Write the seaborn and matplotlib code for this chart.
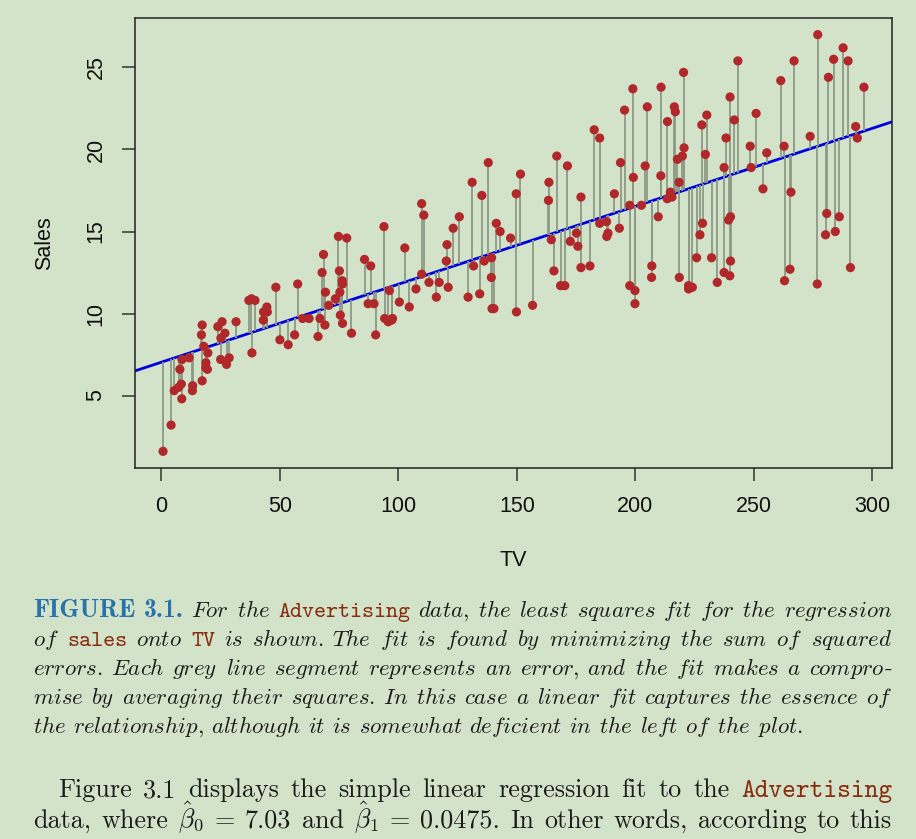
import numpy as np
import pandas as pd
import matplotlib
matplotlib.use("Agg")
import matplotlib.pyplot as plt
import seaborn as sns

# Advertising data: TV budget and Sales (200 markets)
tv = [230.1, 44.5, 17.2, 151.5, 180.8, 8.7, 57.5, 120.2, 8.6, 199.8,
      66.1, 214.7, 23.8, 97.5, 204.1, 195.4, 67.8, 281.4, 69.2, 147.3,
      218.4, 237.4, 13.2, 228.3, 62.3, 262.9, 142.9, 240.1, 248.8, 70.6,
      292.9, 112.9, 97.2, 265.6, 95.7, 290.7, 266.9, 74.7, 43.1, 228.0,
      202.5, 177.0, 293.6, 206.9, 25.1, 175.1, 89.7, 239.9, 227.2, 66.9,
      199.8, 100.4, 216.4, 182.6, 262.7, 198.9, 7.3, 136.2, 210.8, 210.7,
      53.5, 261.3, 239.3, 102.7, 131.1, 69.0, 31.5, 139.3, 237.4, 216.8,
      199.1, 109.8, 26.8, 129.4, 213.4, 16.9, 27.5, 120.5, 5.4, 116.0,
      76.4, 239.8, 75.3, 68.4, 213.5, 193.2, 76.3, 110.7, 88.3, 109.8,
      134.3, 28.6, 217.7, 250.9, 107.4, 163.3, 197.6, 184.9, 289.7, 135.2,
      222.4, 296.4, 280.2, 187.9, 238.2, 137.9, 25.0, 90.4, 13.1, 255.4,
      225.8, 241.7, 175.7, 209.6, 78.2, 75.1, 139.2, 76.4, 125.7, 19.4,
      141.3, 18.8, 224.0, 123.1, 229.5, 87.2, 7.8, 80.2, 220.3, 59.6,
      0.7, 265.2, 8.4, 219.8, 36.9, 48.3, 25.6, 273.7, 43.0, 184.9,
      73.4, 193.7, 220.5, 104.6, 96.2, 140.3, 240.1, 243.2, 38.0, 44.7,
      280.7, 121.0, 197.6, 171.3, 187.8, 4.1, 93.9, 149.8, 11.7, 131.7,
      172.5, 85.7, 188.4, 163.5, 117.2, 234.5, 17.9, 206.8, 215.4, 284.3,
      50.0, 164.5, 19.6, 168.4, 222.4, 276.9, 248.4, 170.2, 276.7, 165.6,
      156.6, 218.5, 56.2, 287.6, 253.8, 205.0, 139.5, 191.1, 286.0, 18.7,
      39.5, 75.5, 17.2, 166.8, 149.7, 38.2, 94.2, 177.0, 283.6, 232.1]
sales = [22.1, 10.4, 9.3, 18.5, 12.9, 7.2, 11.8, 13.2, 4.8, 10.6,
         8.6, 17.4, 9.2, 9.7, 19.0, 22.4, 12.5, 24.4, 11.3, 14.6,
         18.0, 12.5, 5.6, 15.5, 9.7, 12.0, 15.0, 15.9, 18.9, 10.5,
         21.4, 11.9, 9.6, 17.4, 9.5, 12.8, 25.4, 14.7, 10.1, 21.5,
         16.6, 17.1, 20.7, 12.9, 8.5, 14.9, 10.6, 23.2, 14.8, 9.7,
         11.4, 10.7, 22.6, 21.2, 20.2, 23.7, 5.5, 13.2, 23.8, 18.4,
         8.1, 24.2, 15.7, 14.0, 18.0, 9.3, 9.5, 13.4, 18.9, 22.3,
         18.3, 12.4, 8.8, 11.0, 17.0, 8.7, 6.9, 14.2, 5.3, 11.0,
         11.8, 12.3, 11.3, 13.6, 21.7, 15.2, 12.0, 16.0, 12.9, 16.7,
         11.2, 7.3, 19.4, 22.2, 11.5, 16.9, 11.7, 15.5, 25.4, 17.2,
         11.7, 23.8, 14.8, 14.7, 20.7, 19.2, 7.2, 8.7, 5.3, 19.8,
         13.4, 21.8, 14.1, 15.9, 14.6, 12.6, 12.2, 9.4, 15.9, 6.6,
         15.5, 7.0, 11.6, 15.2, 19.7, 10.6, 6.6, 8.8, 24.7, 9.7,
         1.6, 12.7, 5.7, 19.6, 10.8, 11.6, 9.5, 20.8, 9.6, 20.7,
         10.9, 19.2, 20.1, 10.4, 11.4, 10.3, 13.2, 25.4, 10.9, 10.1,
         16.1, 11.6, 16.6, 19.0, 15.6, 3.2, 15.3, 10.1, 7.3, 12.9,
         14.4, 13.3, 14.9, 18.0, 11.9, 11.9, 8.0, 12.2, 17.1, 15.0,
         8.4, 14.5, 7.6, 11.7, 11.5, 27.0, 20.2, 11.7, 11.8, 12.6,
         10.5, 12.2, 8.7, 26.2, 17.6, 22.6, 10.3, 17.3, 15.9, 6.7,
         10.8, 9.9, 5.9, 19.6, 17.3, 7.6, 9.7, 12.8, 25.5, 13.4]

x_ticks = [0, 50, 100, 150, 200, 250, 300]
y_ticks = [5, 10, 15, 20, 25]

caption_lines = [
    "FIGURE 3.1. For the Advertising data, the least squares fit for the regression",
    "of sales onto TV is shown. The fit is found by minimizing the sum of squared",
    "errors. Each grey line segment represents an error, and the fit makes a compro-",
    "mise by averaging their squares. In this case a linear fit captures the essence of",
    "the relationship, although it is somewhat deficient in the left of the plot.",
]
body_lines = [
    "Figure 3.1 displays the simple linear regression fit to the Advertising",
    r"data, where $\hat{\beta}_0$ = 7.03 and $\hat{\beta}_1$ = 0.0475. In other words, according to this",
]
code_words = {"Advertising", "sales", "TV"}
fig_words = {"FIGURE", "3.1."}

W, H = 916, 839
BG = "#d3e3c9"

sns.set_style("ticks")
plt.rcParams["font.family"] = ["Liberation Sans", "DejaVu Sans"]
plt.rcParams["mathtext.fontset"] = "cm"

fig = plt.figure(figsize=(W / 100, H / 100), dpi=100, facecolor=BG)
ax = fig.add_axes([135 / W, 1 - 468 / H, (892 - 135) / W, (468 - 18) / H])
ax.set_facecolor(BG)

df = pd.DataFrame({"TV": tv, "Sales": sales})
b1, b0 = np.polyfit(df["TV"], df["Sales"], 1)
df["fit"] = b0 + b1 * df["TV"]

# least squares line, residual segments, then the points
ax.axline((0, b0), slope=b1, color="#0000e0", lw=2.0, zorder=2)
ax.vlines(df["TV"], df["Sales"], df["fit"], color="#8d9985", lw=1.3, zorder=3)
sns.scatterplot(data=df, x="TV", y="Sales", ax=ax, color="#b0282a",
                s=44, edgecolor="none", linewidth=0, zorder=4)

# R style 4% padding
def r_lims(v):
    lo, hi = min(v), max(v)
    pad = 0.04 * (hi - lo)
    return lo - pad, hi + pad

ax.set_xlim(*r_lims(tv))
ax.set_ylim(*r_lims(sales))
ax.set_xticks(x_ticks)
ax.set_yticks(y_ticks)
ax.tick_params(direction="out", length=9.4, width=1.1, color="#333333",
               labelsize=15.5, pad=11, labelcolor="#111111")
for lab in ax.get_yticklabels():
    lab.set_rotation(90)
    lab.set_va("center")
for sp in ax.spines.values():
    sp.set_visible(True)
    sp.set_color("#222222")
    sp.set_linewidth(1.1)

ax.set_xlabel("TV", fontsize=15.5, color="#111111", va="center")
ax.set_ylabel("Sales", fontsize=15.5, color="#111111", va="center")
ax.xaxis.set_label_coords(0.5, (468 - 560) / 450)
ax.yaxis.set_label_coords((45 - 135) / 757, 0.5)

# ---- caption and body text, justified word by word ----
STYLES = {
    "fig": (dict(family="cmb10", color="#2a72ab"), 1.12),
    "it": (dict(color="#1c1c1c"), 1.0),
    "tt": (dict(family="cmtt10", color="#8a2c0e"), 1.0),
    "rm": (dict(family="cmr10", color="#1c1c1c"), 1.0),
    "math": (dict(color="#1c1c1c"), 1.0),
}

renderer = fig.canvas.get_renderer()


def word_pieces(tok, default):
    if tok.startswith("$"):
        return [(tok, "math")]
    if tok in code_words:
        return [(tok, "tt")]
    if default == "it" and tok in fig_words:
        return [(tok, "fig")]
    if default == "it":
        if tok.endswith("-"):
            return [(r"$\mathit{" + tok[:-1] + "}$", "it"), ("-", "rm")]
        return [(r"$\mathit{" + tok + "}$", "it")]
    return [(tok, "rm")]


def place_line(line, y, x0, x1, size, default, justify=True):
    words = []
    for tok in line.split():
        arts = []
        for txt, st in word_pieces(tok, default):
            kw, f = STYLES[st]
            t = fig.text(0, 0, txt, fontsize=size * f, va="baseline", ha="left", **kw)
            arts.append((t, t.get_window_extent(renderer).width))
        words.append(arts)
    widths = [sum(w for _, w in arts) for arts in words]
    if justify:
        gap = (x1 - x0 - sum(widths)) / (len(words) - 1)
    else:
        gap = size * 100 / 72 * 0.3
    x = x0
    for arts in words:
        for t, w in arts:
            t.set_position((x / W, 1 - y / H))
            x += w
        x += gap


cap_base = [617, 646, 675, 704, 733]
for i, (line, y) in enumerate(zip(caption_lines, cap_base)):
    place_line(line, y, 33, 892, 16.5, "it", justify=(i < len(caption_lines) - 1))

place_line(body_lines[0], 797, 58, 892, 18.8, "rm")
place_line(body_lines[1], 828, 33, 892, 18.8, "rm")

fig.savefig("out.png", dpi=100, facecolor=BG)
